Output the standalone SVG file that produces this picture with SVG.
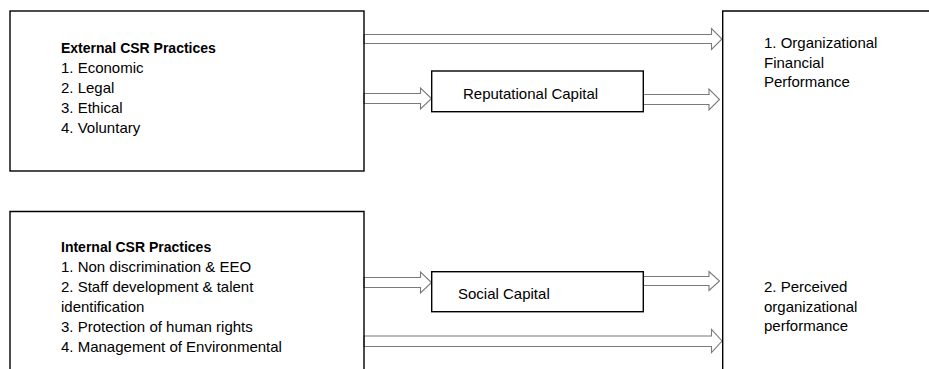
<svg xmlns="http://www.w3.org/2000/svg" width="929" height="369" viewBox="0 0 929 369">
<style>
  .box { fill: none; stroke: #000; stroke-width: 1.4; }
  .arrow { fill: #fff; stroke: #7a7a7a; stroke-width: 1.1; }
  text { font-family: "Liberation Sans", Arial, sans-serif; font-size: 15px; fill: #000; }
  .b { font-weight: bold; font-size: 14px; }
</style>
<rect width="929" height="369" fill="#fff"/>
<g id="connectors">
  <polygon class="arrow" points="364,34.5 711.5,34.5 711.5,28.5 722,39 711.5,49.5 711.5,43.5 364,43.5"/>
  <polygon class="arrow" points="364,93.5 420.5,93.5 420.5,88 431.5,98.5 420.5,109 420.5,103.5 364,103.5"/>
  <polygon class="arrow" points="643.5,94.5 709,94.5 709,89 719.5,99.5 709,110 709,104.5 643.5,104.5"/>
  <polygon class="arrow" points="364,277.5 420.5,277.5 420.5,272 431.5,282.5 420.5,293 420.5,287.5 364,287.5"/>
  <polygon class="arrow" points="643.5,276.5 709,276.5 709,271.5 719.5,281 709,290.5 709,285.5 643.5,285.5"/>
  <polygon class="arrow" points="364,336 711.5,336 711.5,329.5 722,341 711.5,352.5 711.5,346.5 364,346.5"/>
</g>
<g id="external-csr">
  <rect class="box" x="10" y="11" width="354" height="160"/>
  <text class="b" x="61" y="53">External CSR Practices</text>
  <text x="61" y="73">1. Economic</text>
  <text x="61" y="93">2. Legal</text>
  <text x="61" y="113">3. Ethical</text>
  <text x="61" y="133">4. Voluntary</text>
</g>
<g id="internal-csr">
  <path class="box" d="M10,369 V211.5 H364 V369"/>
  <text class="b" x="61" y="252">Internal CSR Practices</text>
  <text x="61" y="272">1. Non discrimination &amp; EEO</text>
  <text x="61" y="292">2. Staff development &amp; talent</text>
  <text x="61" y="312">identification</text>
  <text x="61" y="332">3. Protection of human rights</text>
  <text x="61" y="352">4. Management of Environmental</text>
</g>
<g id="reputational-capital">
  <rect class="box" x="431.7" y="71" width="211.6" height="40.7"/>
  <text x="463" y="99">Reputational Capital</text>
</g>
<g id="social-capital">
  <rect class="box" x="431.7" y="271.7" width="211.6" height="40"/>
  <text x="458" y="299">Social Capital</text>
</g>
<g id="performance">
  <path class="box" d="M722.7,369 V11 H929"/>
  <text x="764" y="48">1. Organizational</text>
  <text x="764" y="68">Financial</text>
  <text x="764" y="87">Performance</text>
  <text x="764" y="292">2. Perceived</text>
  <text x="764" y="312">organizational</text>
  <text x="764" y="331">performance</text>
</g>
</svg>
